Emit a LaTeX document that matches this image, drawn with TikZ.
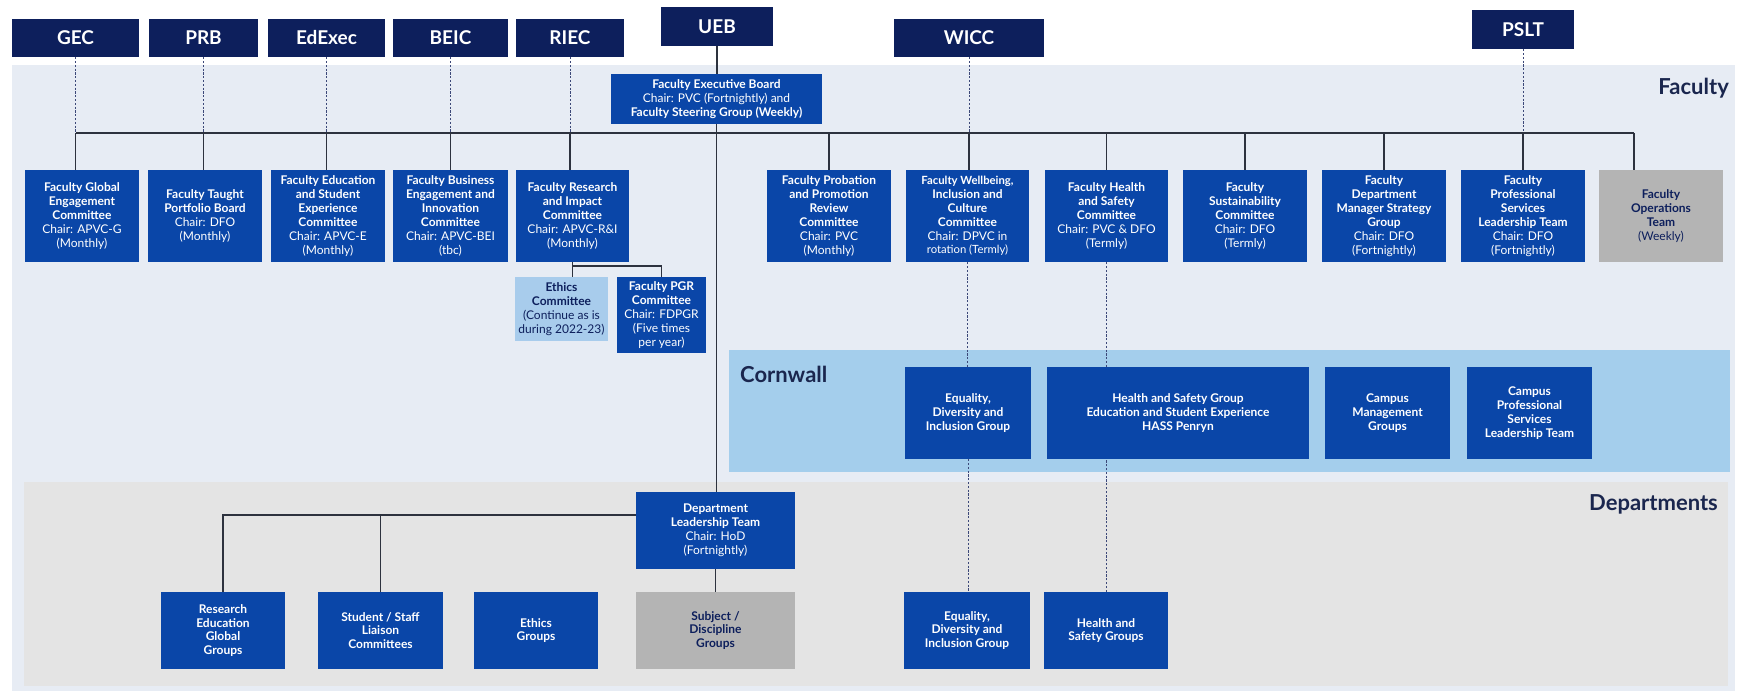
\documentclass[tikz,border=0pt]{standalone}
\usepackage{fontspec}
\setmainfont{Lato}
\usetikzlibrary{calc}
\definecolor{navy}{RGB}{13,31,92}
\definecolor{cblue}{RGB}{10,70,168}
\definecolor{facbg}{RGB}{231,236,244}
\definecolor{cornbg}{RGB}{164,206,236}
\definecolor{deptbg}{RGB}{228,228,228}
\definecolor{greybox}{RGB}{180,180,180}
\definecolor{lightbox}{RGB}{168,204,236}
\definecolor{labelc}{RGB}{26,38,78}
\definecolor{linec}{RGB}{45,50,62}
\definecolor{dashc}{RGB}{60,72,120}
\newcommand\rg[1]{{\mdseries #1}}
\newcommand\nw[1]{{\fontsize{11.3}{13.9}\selectfont #1}}
\newcommand\bx[7]{\node[#6, minimum width={(#4)-(#2)}, minimum height={(#5)-(#3)}] (#1) at ({((#2)+(#4))/2},{((#3)+(#5))/2}) {#7};}
\tikzset{
  topbox/.style={fill=navy, text=white, inner sep=0pt, font=\bfseries\fontsize{19}{22}\selectfont},
  cbox/.style={fill=cblue, text=white, inner sep=0pt, align=center, font=\bfseries\fontsize{12}{13.9}\selectfont},
  gbox/.style={cbox, fill=greybox, text=navy},
  lbox/.style={cbox, fill=lightbox, text=navy},
  conn/.style={draw=linec, line width=1.3pt},
  dashconn/.style={draw=dashc, line width=1pt, dash pattern=on 2.2pt off 1.6pt},
  seclabel/.style={text=labelc, inner sep=0pt, font=\bfseries\fontsize{22}{26}\selectfont},
}
\begin{document}
\begin{tikzpicture}[x=1pt,y=-1pt]
\fill[white] (0,0) rectangle (1742,691);
\useasboundingbox (0,0) rectangle (1742,691);
% bands
\fill[facbg] (12,65) rectangle (1735,691);
\fill[deptbg] (24,482) rectangle (1728,686);
\fill[cornbg] (729,350) rectangle (1730,472);
% section labels
\node[seclabel, anchor=east] (lfac) at (1729,88) {Faculty};
\node[seclabel, anchor=east] (ldep) at (1718,504) {Departments};
\node[seclabel, anchor=west] (lcorn) at (740,374) {Cornwall};
% top boxes
\bx{gec}{12}{19}{139}{57}{topbox}{GEC}
\bx{prb}{149}{19}{258}{57}{topbox}{PRB}
\bx{edexec}{268}{19}{385}{57}{topbox}{EdExec}
\bx{beic}{393}{19}{508}{57}{topbox}{BEIC}
\bx{riec}{516}{19}{624}{57}{topbox}{RIEC}
\bx{ueb}{661}{7}{773}{46}{topbox}{UEB}
\bx{wicc}{894}{19}{1044}{57}{topbox}{WICC}
\bx{pslt}{1472}{10}{1574}{49}{topbox}{PSLT}
% faculty executive board
\bx{feb}{611}{74}{822}{124}{cbox}{Faculty Executive Board\\\rg{Chair: PVC (Fortnightly) and}\\Faculty Steering Group (Weekly)}
% faculty committees
\bx{fgec}{25}{170}{139}{262}{cbox}{Faculty Global\\Engagement\\Committee\\\rg{Chair: APVC-G}\\\rg{(Monthly)}}
\bx{ftpb}{148}{170}{262}{262}{cbox}{Faculty Taught\\Portfolio Board\\\rg{Chair: DFO}\\\rg{(Monthly)}}
\bx{fesec}{271}{170}{385}{262}{cbox}{Faculty Education\\and Student\\Experience\\Committee\\\rg{Chair: APVC-E}\\\rg{(Monthly)}}
\bx{fbeic}{393}{170}{508}{262}{cbox}{Faculty Business\\Engagement and\\Innovation\\Committee\\\rg{Chair: APVC-BEI}\\\rg{(tbc)}}
\bx{fric}{516}{170}{629}{262}{cbox}{Faculty Research\\and Impact\\Committee\\\rg{Chair: APVC-R\&I}\\\rg{(Monthly)}}
\bx{fppr}{767}{170}{891}{262}{cbox}{Faculty Probation\\and Promotion\\Review\\Committee\\\rg{Chair: PVC}\\\rg{(Monthly)}}
\bx{fwicc}{906}{170}{1029}{262}{cbox}{\nw{Faculty Wellbeing,}\\Inclusion and\\Culture\\Committee\\\rg{Chair: DPVC in}\\\rg{\nw{rotation (Termly)}}}
\bx{fhsc}{1045}{170}{1168}{262}{cbox}{Faculty Health\\and Safety\\Committee\\\rg{Chair: PVC \& DFO}\\\rg{(Termly)}}
\bx{fsc}{1183}{170}{1307}{262}{cbox}{Faculty\\Sustainability\\Committee\\\rg{Chair: DFO}\\\rg{(Termly)}}
\bx{fdmsg}{1322}{170}{1446}{262}{cbox}{Faculty\\Department\\Manager Strategy\\Group\\\rg{Chair: DFO}\\\rg{(Fortnightly)}}
\bx{fpslt}{1461}{170}{1585}{262}{cbox}{Faculty\\Professional\\Services\\Leadership Team\\\rg{Chair: DFO}\\\rg{(Fortnightly)}}
\bx{fops}{1599}{170}{1723}{262}{gbox}{Faculty\\Operations\\Team\\\rg{(Weekly)}}
% research sub-committees
\bx{ethc}{515}{277}{608}{341}{lbox}{Ethics\\Committee\\\rg{(Continue as is}\\\rg{during 2022-23)}}
\bx{pgr}{617}{277}{706}{353}{cbox}{Faculty PGR\\Committee\\\rg{Chair: FDPGR}\\\rg{(Five times}\\\rg{per year)}}
% Cornwall
\bx{cedi}{905}{367}{1031}{459}{cbox}{Equality,\\Diversity and\\Inclusion Group}
\bx{chs}{1047}{367}{1309}{459}{cbox}{Health and Safety Group\\Education and Student Experience\\HASS Penryn}
\bx{ccmg}{1325}{367}{1450}{459}{cbox}{Campus\\Management\\Groups}
\bx{cpslt}{1467}{367}{1592}{459}{cbox}{Campus\\Professional\\Services\\Leadership Team}
% Departments
\bx{dlt}{636}{492}{795}{569}{cbox}{Department\\Leadership Team\\\rg{Chair: HoD}\\\rg{(Fortnightly)}}
\bx{regg}{161}{592}{285}{669}{cbox}{Research\\Education\\Global\\Groups}
\bx{ssl}{318}{592}{443}{669}{cbox}{Student / Staff\\Liaison\\Committees}
\bx{eg}{474}{592}{598}{669}{cbox}{Ethics\\Groups}
\bx{sdg}{636}{592}{795}{669}{gbox}{Subject /\\Discipline\\Groups}
\bx{dedi}{904}{592}{1030}{669}{cbox}{Equality,\\Diversity and\\Inclusion Group}
\bx{dhs}{1044}{592}{1168}{669}{cbox}{Health and\\Safety Groups}
% connectors
\coordinate (busL) at ($(gec.south |- 0,133)$);
\coordinate (busR) at (1634,133);
\draw[conn] (busL) -- (busR);
\foreach \t/\c in {gec/fgec, prb/ftpb, edexec/fesec, beic/fbeic, riec/fric, wicc/fwicc, pslt/fpslt}{
  \draw[dashconn] (\t.south) -- (\t.south |- busL);
  \draw[conn] (\t.south |- busL) -- (\t.south |- \c.north);
}
\foreach \c in {fppr, fhsc, fsc, fdmsg}{
  \draw[conn] (\c.north) -- (\c.north |- busL);
}
\draw[conn] (busR) -- (busR |- fops.north);
\draw[conn] (ueb.south) -- (ueb.south |- feb.north);
\draw[conn] (feb.south) -- (feb.south |- dlt.north);
\draw[conn] (fric.south) -- (fric.south |- ethc.north);
\draw[conn] (fric.south |- 0,266) -| (pgr.north);
\draw[conn] (dlt.south) -- (dlt.south |- sdg.north);
\draw[conn] (dlt.west |- 0,515) -| (regg.north);
\draw[conn] (ssl.north) -- (ssl.north |- 0,515);
\draw[dashconn] (fwicc.south) -- (fwicc.south |- cedi.north);
\draw[dashconn] (cedi.south) -- (cedi.south |- dedi.north);
\draw[dashconn] (fhsc.south) -- (fhsc.south |- chs.north);
\draw[dashconn] (dhs.north) -- (dhs.north |- chs.south);
\end{tikzpicture}
\end{document}
